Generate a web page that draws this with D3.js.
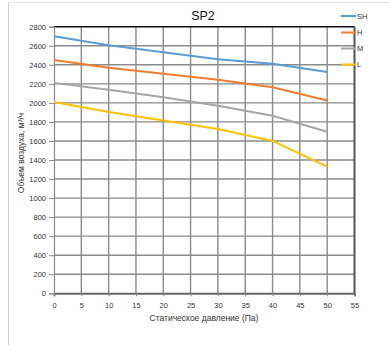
<!DOCTYPE html>
<html><head><meta charset="utf-8">
<script src="https://cdn.jsdelivr.net/npm/d3@7"></script>
<style>html,body{margin:0;padding:0;background:#fff;overflow:hidden;}svg{display:block;font-family:"Liberation Sans",Arial,sans-serif;}</style>
</head><body><svg id="c" width="389" height="345"></svg>
<script>
const pressures = [0, 10, 20, 30, 40, 50];
const seriesNames = ["SH", "H", "M", "L"];
const shValues = [2700, 2605, 2532, 2459, 2410, 2325];
const hValues = [2450, 2370, 2305, 2242, 2165, 2025];
const mValues = [2210, 2137, 2060, 1970, 1865, 1697];
const lValues = [2010, 1905, 1815, 1726, 1600, 1330];
const colors = ["#5B9BD5", "#ED7D31", "#A5A5A5", "#FFC000"];
const xTicks = [0,5,10,15,20,25,30,35,40,45,50,55];
const yTicks = [0,200,400,600,800,1000,1200,1400,1600,1800,2000,2200,2400,2600,2800];
const title = "SP2";
const xTitle = "Статическое давление (Па)";
const yTitle = "Объем воздуха, м³/ч";

const svg = d3.select("#c");
const L = 54, R = 354.5, T = 26.7, B = 293.3;
const x = d3.scaleLinear().domain([0,55]).range([L,R]);
const y = d3.scaleLinear().domain([0,2800]).range([B,T]);

// outer chart border (left and top only visible)
svg.append("line").attr("x1",8.5).attr("x2",8.5).attr("y1",2.5).attr("y2",345).attr("stroke","#cfcfcf");
svg.append("line").attr("x1",8.5).attr("x2",389).attr("y1",2.5).attr("y2",2.5).attr("stroke","#e6e6e6");

// grid
const g = svg.append("g");
g.selectAll(".vg").data(xTicks.slice(1,-1)).join("line")
  .attr("x1",d=>x(d)).attr("x2",d=>x(d)).attr("y1",T).attr("y2",B)
  .attr("stroke","#8a8a8a").attr("stroke-width",1.4);
g.selectAll(".hg").data(yTicks.slice(1,-1)).join("line")
  .attr("x1",L).attr("x2",R).attr("y1",d=>y(d)).attr("y2",d=>y(d))
  .attr("stroke","#8a8a8a").attr("stroke-width",1.4);

// frame
svg.append("line").attr("x1",L).attr("x2",R).attr("y1",T).attr("y2",T).attr("stroke","#111").attr("stroke-width",1.6);
svg.append("line").attr("x1",R).attr("x2",R).attr("y1",T).attr("y2",B).attr("stroke","#555").attr("stroke-width",2);

// axes
const xAxis = svg.append("g").attr("transform",`translate(0,${B})`)
  .call(d3.axisBottom(x).tickValues(xTicks).tickFormat(d3.format("d")).tickSize(3).tickPadding(6));
const yAxis = svg.append("g").attr("transform",`translate(${L},0)`)
  .call(d3.axisLeft(y).tickValues(yTicks).tickFormat(d3.format("d")).tickSize(5).tickPadding(3));
xAxis.select(".domain").attr("stroke","#666").attr("stroke-width",2);
yAxis.select(".domain").attr("stroke","#888").attr("stroke-width",1.2);
svg.selectAll(".tick line").attr("stroke","#888");
svg.selectAll(".tick text").attr("fill","#333").style("font-size","7.5px").style("font-family","Liberation Sans, Arial, sans-serif");

// series
const allValues = [shValues, hValues, mValues, lValues];
const line = d3.line().x((d,i)=>x(pressures[i])).y(d=>y(d));
allValues.forEach((vals,k)=>{
  svg.append("path").attr("d",line(vals)).attr("fill","none")
    .attr("stroke",colors[k]).attr("stroke-width",2);
});

// titles
svg.append("text").attr("x",203).attr("y",19.5).attr("text-anchor","middle")
  .style("font-size","12.5px").attr("fill","#111").text(title);
svg.append("text").attr("x",204).attr("y",320.5).attr("text-anchor","middle")
  .style("font-size","8.5px").attr("fill","#333").text(xTitle);
svg.append("text").attr("transform","translate(24,153) rotate(-90)").attr("text-anchor","middle")
  .style("font-size","8.5px").attr("fill","#333").text(yTitle);

// legend
const legY = [16, 32.5, 48.5, 64.5];
seriesNames.forEach((n,k)=>{
  svg.append("line").attr("x1",341).attr("x2",356).attr("y1",legY[k]).attr("y2",legY[k])
    .attr("stroke",colors[k]).attr("stroke-width",2);
  svg.append("text").attr("x",357).attr("y",legY[k]+2.7).style("font-size","7.5px")
    .attr("fill","#333").text(n);
});
</script></body></html>
